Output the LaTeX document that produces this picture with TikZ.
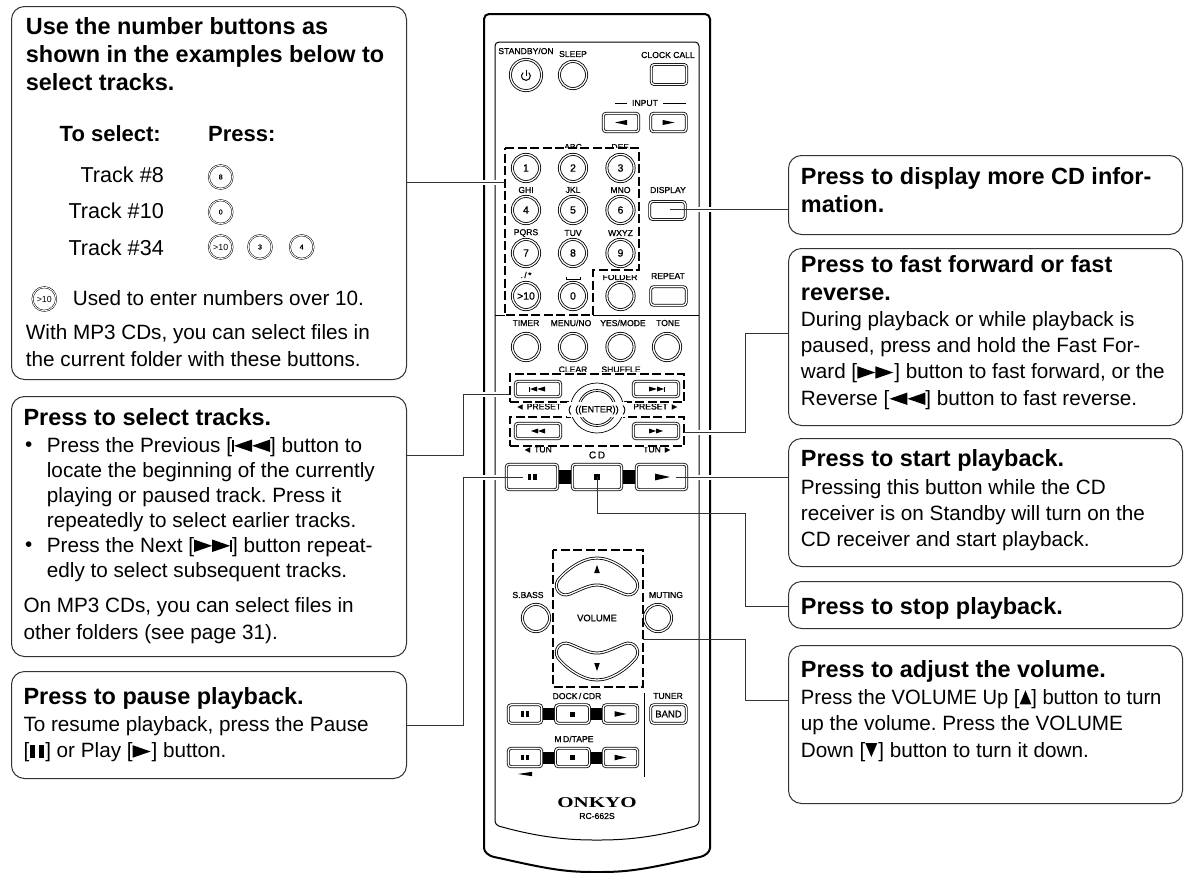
\documentclass[tikz,border=0pt]{standalone}
\usepackage{fontspec}
\setmainfont{Liberation Sans}
\newfontfamily\keyfont[FakeBold=0.9]{Liberation Sans}
\newfontfamily\logofont{Liberation Serif}
\usetikzlibrary{positioning}
\definecolor{inkgray}{gray}{0.2}
\frenchspacing
\tikzset{
  infobox/.style={draw=inkgray,line width=1pt,rounded corners=13pt,anchor=north west,inner sep=0pt},
  headtext/.style={anchor=base west,align=left,inner sep=0pt,font=\fontsize{23.45}{28}\selectfont\bfseries},
  subhead/.style={headtext,font=\fontsize{22}{24}\selectfont\bfseries},
  bodytext/.style={anchor=base west,align=left,inner sep=0pt,font=\fontsize{20.7}{26.3}\selectfont},
  tracktext/.style={bodytext,anchor=base east,font=\fontsize{21.6}{24}\selectfont},
  lead/.style={draw=inkgray,line width=1pt},
  casegap/.style={draw=white,line width=5pt},
  dashbox/.style={draw=black,line width=1.2pt,dash pattern=on 9pt off 3.5pt},
  keylabel/.style={inner sep=0pt,font=\fontsize{8.6}{10}\selectfont\keyfont},
  roundkey/.style={circle,draw=black,line width=.8pt,double,double distance=1.3pt,minimum size=27.2pt,inner sep=0pt,font=\fontsize{10.5}{12}\selectfont\keyfont},
  tinykey/.style={circle,draw=black,line width=.5pt,double,double distance=.9pt,minimum size=23.6pt,inner sep=0pt,font=\fontsize{7}{8}\selectfont\keyfont},
  rectkey/.style={rectangle,rounded corners=3pt,draw=black,line width=.8pt,double,double distance=1.3pt,inner sep=0pt,font=\fontsize{9.5}{12}\selectfont\keyfont},
}
% marks on the keys, drawn from the key's centre
\newcommand{\tipmark}[4]{\fill (#1) ++(#2,0) -- ++(#3,-#4) -- ++(0,2*#4) -- cycle;}
\newcommand{\barsmark}[3]{\fill (#1) ++(-#2,-#3) rectangle ++(#2*.7,2*#3); \fill (#1) ++(#2*.3,-#3) rectangle ++(#2*.7,2*#3);}
\newcommand{\boxmark}[2]{\fill (#1) ++(-#2,-#2) rectangle ++(2*#2,2*#2);}
% marks inside the running text
\newcommand{\tipR}{\tikz[baseline=0pt,x=1pt,y=1pt]\fill (0,0) -- (18,6.2) -- (0,12.5) -- cycle;}
\newcommand{\tipL}{\tikz[baseline=0pt,x=1pt,y=1pt]\fill (18,0) -- (0,6.2) -- (18,12.5) -- cycle;}
\newcommand{\tipU}{\tikz[baseline=0pt,x=1pt,y=1pt]\fill (0,0) -- (6,14) -- (12,0) -- cycle;}
\newcommand{\tipD}{\tikz[baseline=0pt,x=1pt,y=1pt]\fill (0,14) -- (6,0) -- (12,14) -- cycle;}
\newcommand{\inbar}{\rule{5pt}{13pt}}
\newcommand{\stopbar}{\rule{2pt}{12.5pt}}
\begin{document}
\begin{tikzpicture}[x=1pt,y=-1pt]
  \useasboundingbox (0,0) rectangle (1187,873);

  % left column
  \node[infobox,minimum width=395,minimum height=373] (numberbox) at (11,6) {};
  \node[headtext] (numberhead) at (25.7,90) {Use the number buttons as\\shown in the examples below to\\select tracks.};
  \node[subhead,anchor=base east] (selecthead) at (161,141) {To select:};
  \node[subhead] (presshead) at (208,141) {Press:};
  \node[tracktext] (trackeight) at (164,182) {Track \#8};
  \node[tracktext] (trackten) at (164,218) {Track \#10};
  \node[tracktext] (trackthirty) at (164,255) {Track \#34};
  \node[tinykey] (tinyeight) at (220.7,177) {8};
  \node[tinykey] (tinyzero) at (220.7,212) {0};
  \node[tinykey,font=\fontsize{8.8}{10}\selectfont] (tinymore) at (220.7,247) {>10};
  \node[tinykey] (tinythree) at (260,247) {3};
  \node[tinykey] (tinyfour) at (301.7,247) {4};
  \node[tinykey,font=\fontsize{8.8}{10}\selectfont] (tinyover) at (44.3,299) {>10};
  \node[bodytext] (overtext) at (72.7,305) {Used to enter numbers over 10.};
  \node[bodytext] (numberbody) at (25.7,366) {With MP3 CDs, you can select files in\\the current folder with these buttons.};

  \node[infobox,minimum width=395,minimum height=260] (trackbox) at (11,396) {};
  \node[headtext] (trackhead) at (23.3,425.7) {Press to select tracks.};
  \node[bodytext] (trackdotone) at (25,451.7) {•};
  \node[bodytext,font=\fontsize{20.7}{25}\selectfont] (trackbodyone) at (46.7,527) {Press the Previous [\stopbar\tipL\tipL] button to\\locate the beginning of the currently\\playing or paused track. Press it\\repeatedly to select earlier tracks.};
  \node[bodytext] (trackdottwo) at (25,551.7) {•};
  \node[bodytext,font=\fontsize{20.7}{25}\selectfont] (trackbodytwo) at (46.7,577) {Press the Next [\tipR\tipR\stopbar] button repeat-\\edly to select subsequent tracks.};
  \node[bodytext,font=\fontsize{20.7}{27}\selectfont] (trackbodythree) at (23.3,639) {On MP3 CDs, you can select files in\\other folders (see page 31).};

  \node[infobox,minimum width=395,minimum height=107] (pausebox) at (11,671) {};
  \node[headtext] (pausehead) at (23.3,704) {Press to pause playback.};
  \node[bodytext] (pausebody) at (23.3,757.7) {To resume playback, press the Pause\\{}[\hspace{1pt}\inbar\hspace{4pt}\inbar\hspace{1pt}] or Play [\tipR\hspace{1pt}] button.};

  % right column
  \node[infobox,minimum width=394,minimum height=79] (displaybox) at (788,155) {};
  \node[headtext,font=\fontsize{23.45}{28.7}\selectfont\bfseries] (displayhead) at (800.7,212.7) {Press to display more CD infor-\\mation.};
  \node[infobox,minimum width=394,minimum height=177] (scanbox) at (788,248) {};
  \node[headtext] (scanhead) at (800.7,300) {Press to fast forward or fast\\reverse.};
  \node[bodytext] (scanbody) at (800.7,405) {During playback or while playback is\\paused, press and hold the Fast For-\\ward [\tipR\tipR\hspace{1pt}] button to fast forward, or the\\Reverse [\tipL\tipL] button to fast reverse.};
  \node[infobox,minimum width=394,minimum height=128] (playbox) at (788,438) {};
  \node[headtext] (playhead) at (800.7,466.7) {Press to start playback.};
  \node[bodytext] (playbody) at (800.7,546.7) {Pressing this button while the CD\\receiver is on Standby will turn on the\\CD receiver and start playback.};
  \node[infobox,minimum width=394,minimum height=47] (stopbox) at (788,581) {};
  \node[headtext] (stophead) at (800.7,614) {Press to stop playback.};
  \node[infobox,minimum width=394,minimum height=158] (volumebox) at (788,645) {};
  \node[headtext] (volumehead) at (800.7,677) {Press to adjust the volume.};
  \node[bodytext] (volumebody) at (800.7,757) {\scalebox{.975}[1]{Press the VOLUME Up [\tipU] button to turn}\\up the volume. Press the VOLUME\\Down [\tipD\hspace{1pt}] button to turn it down.};

  % remote case
  \draw[line width=2pt,rounded corners=5pt] (484,14) -- (710,14) -- (710,843) .. controls (710,852) and (705,856) .. (695,858) .. controls (650,868) and (630,872) .. (597,872) .. controls (564,872) and (544,868) .. (499,858) .. controls (489,856) and (484,852) .. (484,843) -- cycle;
  \draw[line width=1pt,rounded corners=4pt] (495,42) -- (699,42) -- (699,825) .. controls (660,836) and (630,840) .. (597,840) .. controls (564,840) and (534,836) .. (495,825) -- cycle;
  \draw[line width=1pt] (495,315) -- (505,315);
  \draw[line width=1pt] (593,315) -- (699,315);

  % top keys
  \node[keylabel] (standbylabel) at (526,51) {STANDBY/ON};
  \node[keylabel] (sleeplabel) at (573,54) {SLEEP};
  \node[keylabel] (clocklabel) at (668,55) {CLOCK CALL};
  \node[roundkey,minimum size=31.2pt] (standbykey) at (526,75) {};
  \draw[line width=1pt] (526,69.5) -- (526,75.5);
  \draw[line width=1pt] (528.8,72.6) arc (-50:230:4.4);
  \node[roundkey] (sleepkey) at (573,75) {};
  \node[rectkey,minimum width=35.5pt,minimum height=20pt] (clockkey) at (669,74.5) {};
  \node[keylabel] (inputlabel) at (645,103) {INPUT};
  \coordinate (inputl) at (627,103);
  \coordinate (inputr) at (663,103);
  \draw[line width=.6pt] (inputl) -- +(-12,0);
  \draw[line width=.6pt] (inputr) -- +(23,0);
  \node[rectkey,minimum width=35.5pt,minimum height=18.5pt] (inputleft) at (621,122.5) {};
  \node[rectkey,minimum width=35.5pt,minimum height=18.5pt] (inputright) at (668.5,122.5) {};
  \tipmark{inputleft}{-6}{12}{2.6}
  \tipmark{inputright}{6}{-12}{2.6}

  % labels that the dashed frames cut
  \node[keylabel] (abclabel) at (573,147) {ABC};
  \node[keylabel] (deflabel) at (620,147) {DEF};
  \node[keylabel] (folderlabel) at (620,277) {FOLDER};
  \node[keylabel] (clearlabel) at (573,369.5) {CLEAR};
  \node[keylabel] (shufflelabel) at (621,369.5) {SHUFFLE};
  \node[keylabel] (presetleft) at (538.5,406.5) {◄ PRESET};
  \node[keylabel] (presetright) at (656,406.5) {PRESET ►};
  \node[keylabel] (tunleft) at (537.5,449.5) {◄ TUN};
  \node[keylabel] (tunright) at (657.5,449.5) {TUN ►};
  \fill[white] (500,148) rectangle (645,153);
  \fill[white] (594,268) rectangle (645,274.5);
  \fill[white] (550,372) rectangle (645,378);
  \fill[white] (512,398) rectangle (680,403.5);
  \fill[white] (512,441) rectangle (680,447);

  % number keys
  \foreach \name/\colx/\rowy/\keytext in {one/526/168/1,two/573/168/2,three/620.5/168/3,four/526/210/4,five/573/210/5,six/620.5/210/6,seven/526/253/7,eight/573/253/8,nine/620.5/253/9,more/526/296/{>10},zero/573/296/0}
    \node[roundkey] (key\name) at (\colx,\rowy) {\keytext};
  \foreach \name/\colx/\rowy/\keytext in {ghi/526/190/GHI,jkl/573/190/JKL,mno/620.5/190/MNO,pqrs/526/233/PQRS,tuv/573/233/TUV,wxyz/620.5/233/WXYZ,dots/526/275/{.\,/\,*}}
    \node[keylabel] (\name label) at (\colx,\rowy) {\keytext};
  \coordinate (spacemark) at (573,279);
  \draw[line width=.7pt] (spacemark) ++(-7,-2.5) -- ++(0,2.5) -- ++(14,0) -- ++(0,-2.5);
  \node[roundkey] (folderkey) at (620.5,296) {};
  \node[keylabel] (displaylabel) at (668,190) {DISPLAY};
  \node[rectkey,minimum width=35.5pt,minimum height=18pt] (displaykey) at (667.5,210.5) {};
  \node[keylabel] (repeatlabel) at (668,276) {REPEAT};
  \node[rectkey,minimum width=35.5pt,minimum height=18.5pt] (repeatkey) at (668.5,296) {};
  \coordinate (padwest) at (505,182);
  \draw[dashbox] (505,148) -- (639,148) -- (639,270) -- (593,270) -- (593,315) -- (505,315) -- cycle;

  % timer row
  \foreach \name/\colx/\keytext in {timer/526/TIMER,menu/571/{MENU/NO},yes/623/{YES/MODE},tone/668/TONE}
    \node[keylabel] (\name label) at (\colx,323) {\keytext};
  \foreach \name/\colx in {timer/526,menu/573,yes/620.5,tone/667}
    \node[roundkey] (\name key) at (\colx,347) {};

  % preset and tuning keys
  \node[dashbox,rectangle,minimum width=174,minimum height=28,inner sep=0pt] (presetframe) at (597,388) {};
  \node[dashbox,rectangle,minimum width=174,minimum height=29,inner sep=0pt] (tuneframe) at (597,431.5) {};
  \node[rectkey,minimum width=45.5pt,minimum height=15.5pt] (prevkey) at (538,389) {};
  \node[rectkey,minimum width=45.5pt,minimum height=15.5pt] (nextkey) at (656,389) {};
  \node[rectkey,minimum width=45.5pt,minimum height=15.5pt] (rewkey) at (538,431) {};
  \node[rectkey,minimum width=45.5pt,minimum height=15.5pt] (ffkey) at (656,431) {};
  \fill (prevkey) ++(-9,-2.5) rectangle ++(1,5);
  \tipmark{prevkey}{-8}{7}{2.5}
  \tipmark{prevkey}{-1}{8}{2.5}
  \tipmark{nextkey}{1}{-8}{2.5}
  \tipmark{nextkey}{8}{-7}{2.5}
  \fill (nextkey) ++(8,-2.5) rectangle ++(1,5);
  \tipmark{rewkey}{-7}{7}{2.5}
  \tipmark{rewkey}{0}{7}{2.5}
  \tipmark{ffkey}{0}{-7}{2.5}
  \tipmark{ffkey}{7}{-7}{2.5}
  \coordinate (entermid) at (597,408);
  \fill[white] (entermid) ellipse (28 and 26);
  \draw[line width=.7pt] (entermid) ellipse (26.5 and 25);
  \draw[line width=.7pt] (entermid) ellipse (19 and 18.5);
  \draw[line width=.7pt] (entermid) ellipse (17 and 16.5);
  \fill[white] (567,402) rectangle (627,417);
  \node[keylabel,font=\fontsize{9.2}{12}\selectfont\keyfont] (enterlabel) at (597,410) {(\hspace{4pt}((ENTER))\hspace{4pt})};

  % cd keys
  \node[keylabel,font=\fontsize{10}{12}\selectfont\keyfont] (cdlabel) at (597,455) {C\,D};
  \fill (559,470) rectangle (571,483.5);
  \fill (623,470) rectangle (635,483.5);
  \node[rectkey,minimum width=51.5pt,minimum height=25.5pt] (cdpause) at (532,477) {};
  \node[rectkey,minimum width=49.5pt,minimum height=25.5pt] (cdstop) at (597,477) {};
  \node[rectkey,minimum width=50.5pt,minimum height=25.5pt] (cdplay) at (661.5,477) {};
  \barsmark{cdpause}{4.5}{3.2}
  \boxmark{cdstop}{3.3}
  \tipmark{cdplay}{8.5}{-15}{3.4}

  % volume keys
  \node[keylabel] (sbasslabel) at (528,595) {S.BASS};
  \node[keylabel] (mutinglabel) at (666,595) {MUTING};
  \node[roundkey] (sbasskey) at (536,618) {};
  \node[roundkey] (mutingkey) at (658,618) {};
  \node[keylabel,font=\fontsize{9.4}{12}\selectfont\keyfont] (volumelabel) at (597,618) {VOLUME};
  \draw[line width=.8pt,double,double distance=1.3pt] (597,558) .. controls (612,558) and (628,570) .. (636,580) .. controls (641,588) and (634,598) .. (624,594) .. controls (612,589) and (605,585) .. (597,585) .. controls (589,585) and (582,589) .. (570,594) .. controls (560,598) and (553,588) .. (558,580) .. controls (566,570) and (582,558) .. (597,558) -- cycle;
  \draw[line width=.8pt,double,double distance=1.3pt] (597,680) .. controls (612,680) and (628,668) .. (636,658) .. controls (641,650) and (634,640) .. (624,644) .. controls (612,649) and (605,653) .. (597,653) .. controls (589,653) and (582,649) .. (570,644) .. controls (560,640) and (553,650) .. (558,658) .. controls (566,668) and (582,680) .. (597,680) -- cycle;
  \fill (597,565) -- (599.8,573) -- (594.2,573) -- cycle;
  \fill (597,671) -- (599.8,663) -- (594.2,663) -- cycle;
  \coordinate (volwest) at (643,639);
  \draw[dashbox] (553,550) rectangle (643,687);

  % dock and tape keys
  \node[keylabel] (docklabel) at (577,696) {DOCK\,/\,CDR};
  \node[keylabel] (tunerlabel) at (668,696) {TUNER};
  \node[keylabel] (tapelabel) at (574,739) {M\,D/TAPE};
  \foreach \rowy/\name in {714/dock,757.5/tape}{
    \fill (543,\rowy-6) rectangle (554,\rowy+6);
    \fill (591,\rowy-6) rectangle (602,\rowy+6);
    \node[rectkey,minimum width=33.5pt,minimum height=18.5pt] (\name pause) at (525,\rowy) {};
    \node[rectkey,minimum width=34pt,minimum height=18.5pt] (\name stop) at (572.5,\rowy) {};
    \node[rectkey,minimum width=34.5pt,minimum height=18.5pt] (\name play) at (620.5,\rowy) {};
    \barsmark{\name pause}{3.8}{2.6}
    \boxmark{\name stop}{2.5}
    \tipmark{\name play}{6}{-12}{2.8}
  }
  \node[rectkey,minimum width=35.5pt,minimum height=18.5pt] (bandkey) at (668.5,714) {BAND};
  \coordinate (tunertop) at (644,693);
  \draw[line width=.6pt] (tunertop) -- +(0,84);
  \coordinate (tapearrow) at (525,774);
  \tipmark{tapearrow}{-7}{14}{2.2}
  \node[inner sep=0pt,font=\fontsize{15}{16}\selectfont\logofont\bfseries] (brandlabel) at (597,803) {\scalebox{1.4}[1]{ONKYO}};
  \node[keylabel] (modellabel) at (597,816) {RC-662S};

  % leads
  \coordinate (displayeast) at (670,209);
  \coordinate (pausebend) at (463.5,477);
  \coordinate (stopbend) at (745.5,513);
  \coordinate (stopfoot) at (745.5,606);
  \coordinate (scanbend) at (745,333);
  \coordinate (volbend) at (745.5,700);
  \coordinate (prevbend) at (463.5,394);
  \coordinate (prevfoot) at (463.5,455);
  \coordinate (pausefoot) at (463.5,725);
  \coordinate (scanwest) at (684,432);
  % the case stops short of these leads
  \foreach \gapy in {182,394,477}
    \draw[casegap] (480,\gapy) -- (500,\gapy);
  \foreach \gapy in {209,432,477}
    \draw[casegap] (694,\gapy) -- (715,\gapy);
  \draw[lead] (numberbox.east |- padwest) -- (padwest);
  \draw[lead] (displayeast) -- (displayeast -| displaybox.west);
  \draw[lead] (presetframe.west |- prevbend) -- (prevbend) -- (prevfoot) -- (prevfoot -| trackbox.east);
  \draw[lead] (cdpause.center) ++(-9,0) -- (pausebend) -- (pausefoot) -- (pausefoot -| pausebox.east);
  \draw[lead] (scanwest) -- (scanbend |- scanwest) -- (scanbend) -- (scanbend -| scanbox.west);
  \draw[lead] (cdplay.center) ++(14,0) -- (cdplay.center -| playbox.west);
  \draw[lead] (cdstop.center) -- (cdstop.center |- stopbend) -- (stopbend) -- (stopfoot) -- (stopfoot -| stopbox.west);
  \draw[lead] (volwest) -| (volbend) -- (volbend -| volumebox.west);
\end{tikzpicture}
\end{document}
